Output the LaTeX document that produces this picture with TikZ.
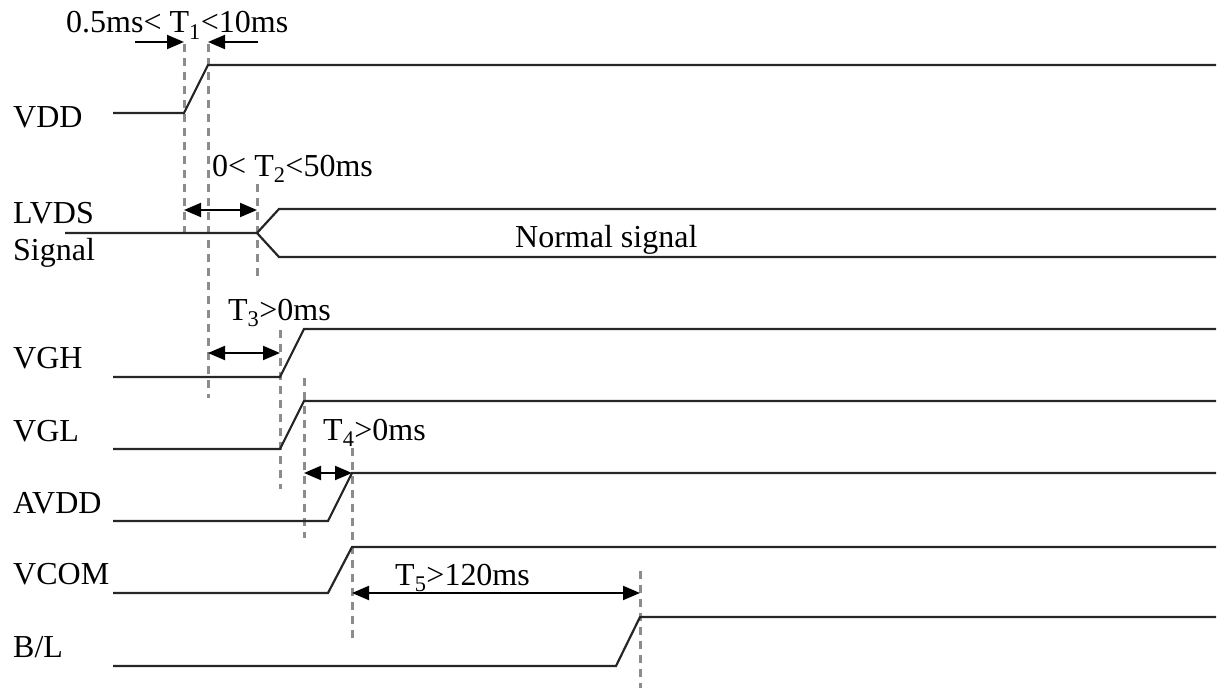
\documentclass[tikz,border=0pt]{standalone}
\usepackage{fontspec}
\setmainfont{Liberation Serif}
\usetikzlibrary{arrows.meta}
\begin{document}
\begin{tikzpicture}[x=1pt,y=-1pt,
  sig/.style={line width=2.2pt, black!85, line join=miter},
  guide/.style={line width=3pt, black!45, dash pattern=on 8pt off 6pt},
  dim/.style={line width=2pt, -{Triangle[length=17pt,width=14pt]}},
  ddim/.style={line width=2pt, {Triangle[length=17pt,width=14pt]}-{Triangle[length=17pt,width=14pt]}},
  lbl/.style={anchor=base west, inner sep=0pt, font=\fontsize{32}{35}\selectfont}]
\useasboundingbox (0,0) rectangle (1218,690);

% guide lines
\coordinate (g1a) at (184,44);  \coordinate (g1b) at (184,232);
\coordinate (g2a) at (208,44);  \coordinate (g2b) at (208,398);
\coordinate (g3a) at (257,184); \coordinate (g3b) at (257,276);
\coordinate (g4a) at (280,330); \coordinate (g4b) at (280,489);
\coordinate (g5a) at (304,378); \coordinate (g5b) at (304,538);
\coordinate (g6a) at (352,448); \coordinate (g6b) at (352,639);
\coordinate (g7a) at (640,571); \coordinate (g7b) at (640,688);
\foreach \g in {1,...,7} \draw[guide] (g\g a) -- (g\g b);

% waveforms
\draw[sig] (113,113) -- (184,113) -- (208,65) -- (1216,65);
\draw[sig] (65,233) -- (257,233) -- (279,209) -- (1216,209);
\draw[sig] (257,233) -- (279,257) -- (1216,257);
\draw[sig] (113,377) -- (280,377) -- (304,329) -- (1216,329);
\draw[sig] (113,449) -- (280,449) -- (304,401) -- (1216,401);
\draw[sig] (113,521) -- (328,521) -- (352,473) -- (1216,473);
\draw[sig] (113,593) -- (328,593) -- (352,547) -- (1216,547);
\draw[sig] (113,666) -- (616,666) -- (640,617) -- (1216,617);

% labels
\node[lbl] (lvdd)  at (13,128) {VDD};
\node[lbl] (llvds) at (13,223) {LVDS};
\node[lbl] (lsig)  at (13,260) {Signal};
\node[lbl] (lvgh)  at (13,368) {VGH};
\node[lbl] (lvgl)  at (13,441) {VGL};
\node[lbl] (lavdd) at (13,513) {AVDD};
\node[lbl] (lvcom) at (13,584) {VCOM};
\node[lbl] (lbl)   at (13,657) {B/L};
\node[lbl] (lnorm) at (515,247) {Normal signal};

% timing annotations
\node[lbl] (t1) at (66,33)   {0.5ms< T\textsubscript{1}<10ms};
\node[lbl] (t2) at (212,176) {0< T\textsubscript{2}<50ms};
\node[lbl] (t3) at (228,320) {T\textsubscript{3}>0ms};
\node[lbl] (t4) at (323,440) {T\textsubscript{4}>0ms};
\node[lbl] (t5) at (395,585) {T\textsubscript{5}>120ms};

\coordinate (a1l) at (135,42); \coordinate (a1r) at (258,42);
\draw[dim] (a1l) -- (g1a |- a1l);
\draw[dim] (a1r) -- (g2a |- a1r);
\draw[ddim] (184,210) -- (257,210);
\draw[ddim] (208,353) -- (280,353);
\draw[ddim] (304,473) -- (352,473);
\draw[ddim] (352,593) -- (640,593);
\end{tikzpicture}
\end{document}
